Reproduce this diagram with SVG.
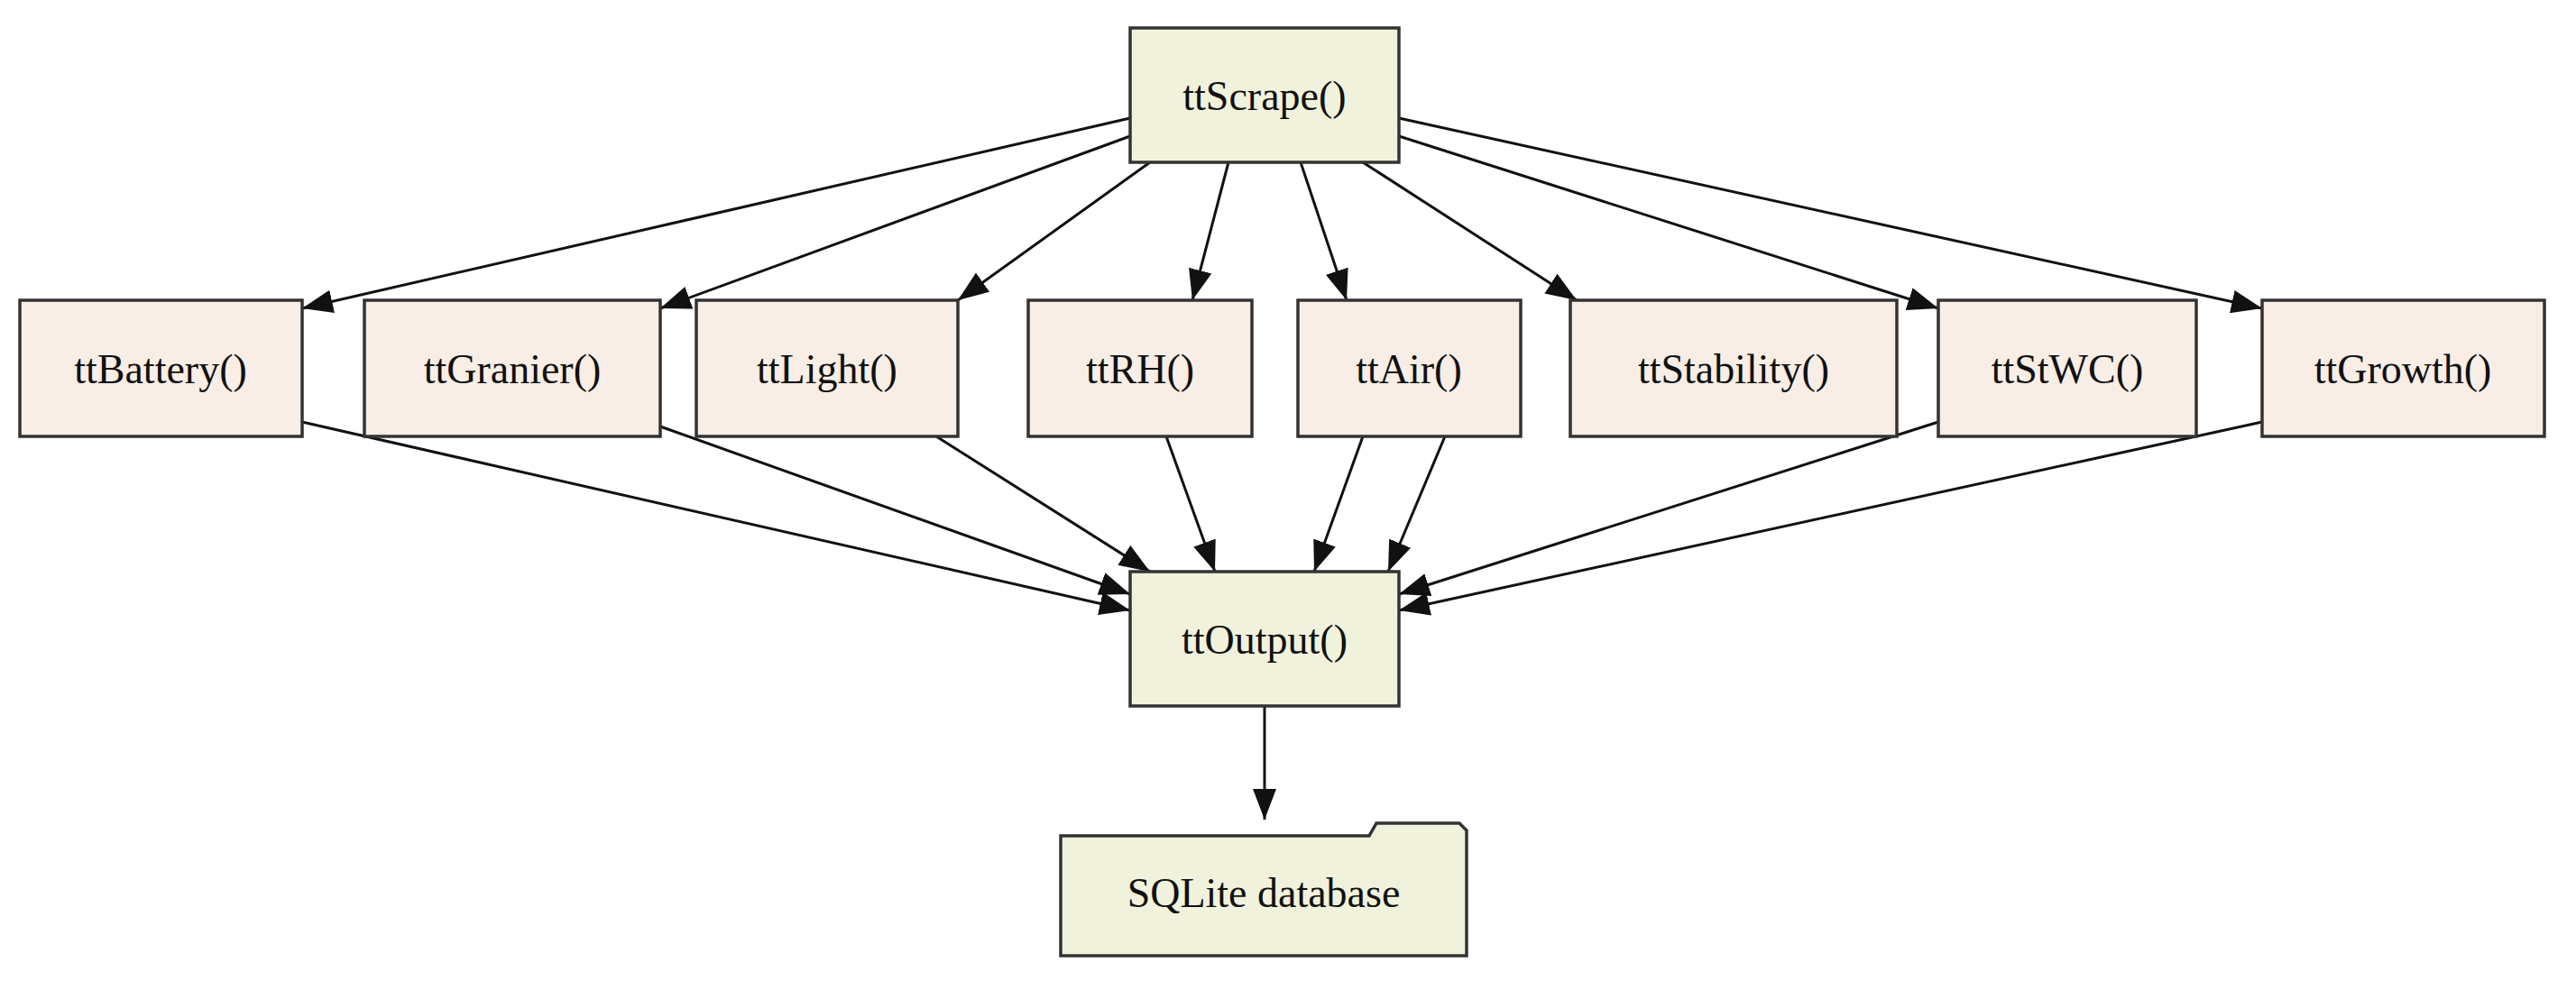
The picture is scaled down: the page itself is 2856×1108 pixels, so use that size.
<svg xmlns="http://www.w3.org/2000/svg" width="2856" height="1108" viewBox="0 0 2856 1108">
<style>
.a{fill:#f1f2dc;stroke:#333;stroke-width:3.5}
.b{fill:#f8eee5;stroke:#333;stroke-width:3.5}
text{font-family:"Liberation Serif","Times New Roman",serif;font-size:46px;fill:#111;text-anchor:middle;dominant-baseline:central}
#edges line{stroke:#111;stroke-width:3;marker-end:url(#ah)}
</style>
<defs><marker id="ah" markerUnits="userSpaceOnUse" markerWidth="36" markerHeight="28" refX="34" refY="13" orient="auto"><path d="M0,0 L34,13 L0,26 Z" fill="#111"/></marker></defs>
<rect width="2856" height="1108" fill="#fff"/>
<g id="edges">
<line x1="1253" y1="131" x2="335" y2="342"/>
<line x1="1253" y1="151" x2="732" y2="342"/>
<line x1="1275" y1="180" x2="1062" y2="333"/>
<line x1="1362" y1="180" x2="1322" y2="333"/>
<line x1="1442" y1="180" x2="1493" y2="333"/>
<line x1="1511" y1="180" x2="1748" y2="333"/>
<line x1="1551" y1="151" x2="2149" y2="342"/>
<line x1="1551" y1="131" x2="2508" y2="342"/>
<line x1="335" y1="468" x2="1253" y2="677"/>
<line x1="732" y1="473" x2="1253" y2="659"/>
<line x1="1038" y1="484" x2="1275" y2="634"/>
<line x1="1293" y1="484" x2="1347" y2="634"/>
<line x1="1511" y1="484" x2="1457" y2="634"/>
<line x1="1602" y1="484" x2="1539" y2="634"/>
<line x1="2149" y1="468" x2="1551" y2="659"/>
<line x1="2508" y1="468" x2="1551" y2="677"/>
<line x1="1402" y1="783" x2="1402" y2="909"/>
</g>
<g id="ttScrape"><rect class="a" x="1253" y="31" width="298" height="149"/><text x="1402" y="106">ttScrape()</text></g>
<g id="ttBattery"><rect class="b" x="22" y="333" width="313" height="151"/><text x="178" y="409">ttBattery()</text></g>
<g id="ttGranier"><rect class="b" x="404" y="333" width="328" height="151"/><text x="568" y="409">ttGranier()</text></g>
<g id="ttLight"><rect class="b" x="772" y="333" width="290" height="151"/><text x="917" y="409">ttLight()</text></g>
<g id="ttRH"><rect class="b" x="1140" y="333" width="248" height="151"/><text x="1264" y="409">ttRH()</text></g>
<g id="ttAir"><rect class="b" x="1439" y="333" width="247" height="151"/><text x="1562" y="409">ttAir()</text></g>
<g id="ttStability"><rect class="b" x="1741" y="333" width="362" height="151"/><text x="1922" y="409">ttStability()</text></g>
<g id="ttStWC"><rect class="b" x="2149" y="333" width="286" height="151"/><text x="2292" y="409">ttStWC()</text></g>
<g id="ttGrowth"><rect class="b" x="2508" y="333" width="313" height="151"/><text x="2664" y="409">ttGrowth()</text></g>
<g id="ttOutput"><rect class="a" x="1253" y="634" width="298" height="149"/><text x="1402" y="709">ttOutput()</text></g>
<g id="sqlite"><path class="a" d="M1176,927 L1518,927 L1526,913 L1618,913 L1626,921 L1626,1060 L1176,1060 Z"/><text x="1401" y="990">SQLite database</text></g>
</svg>
